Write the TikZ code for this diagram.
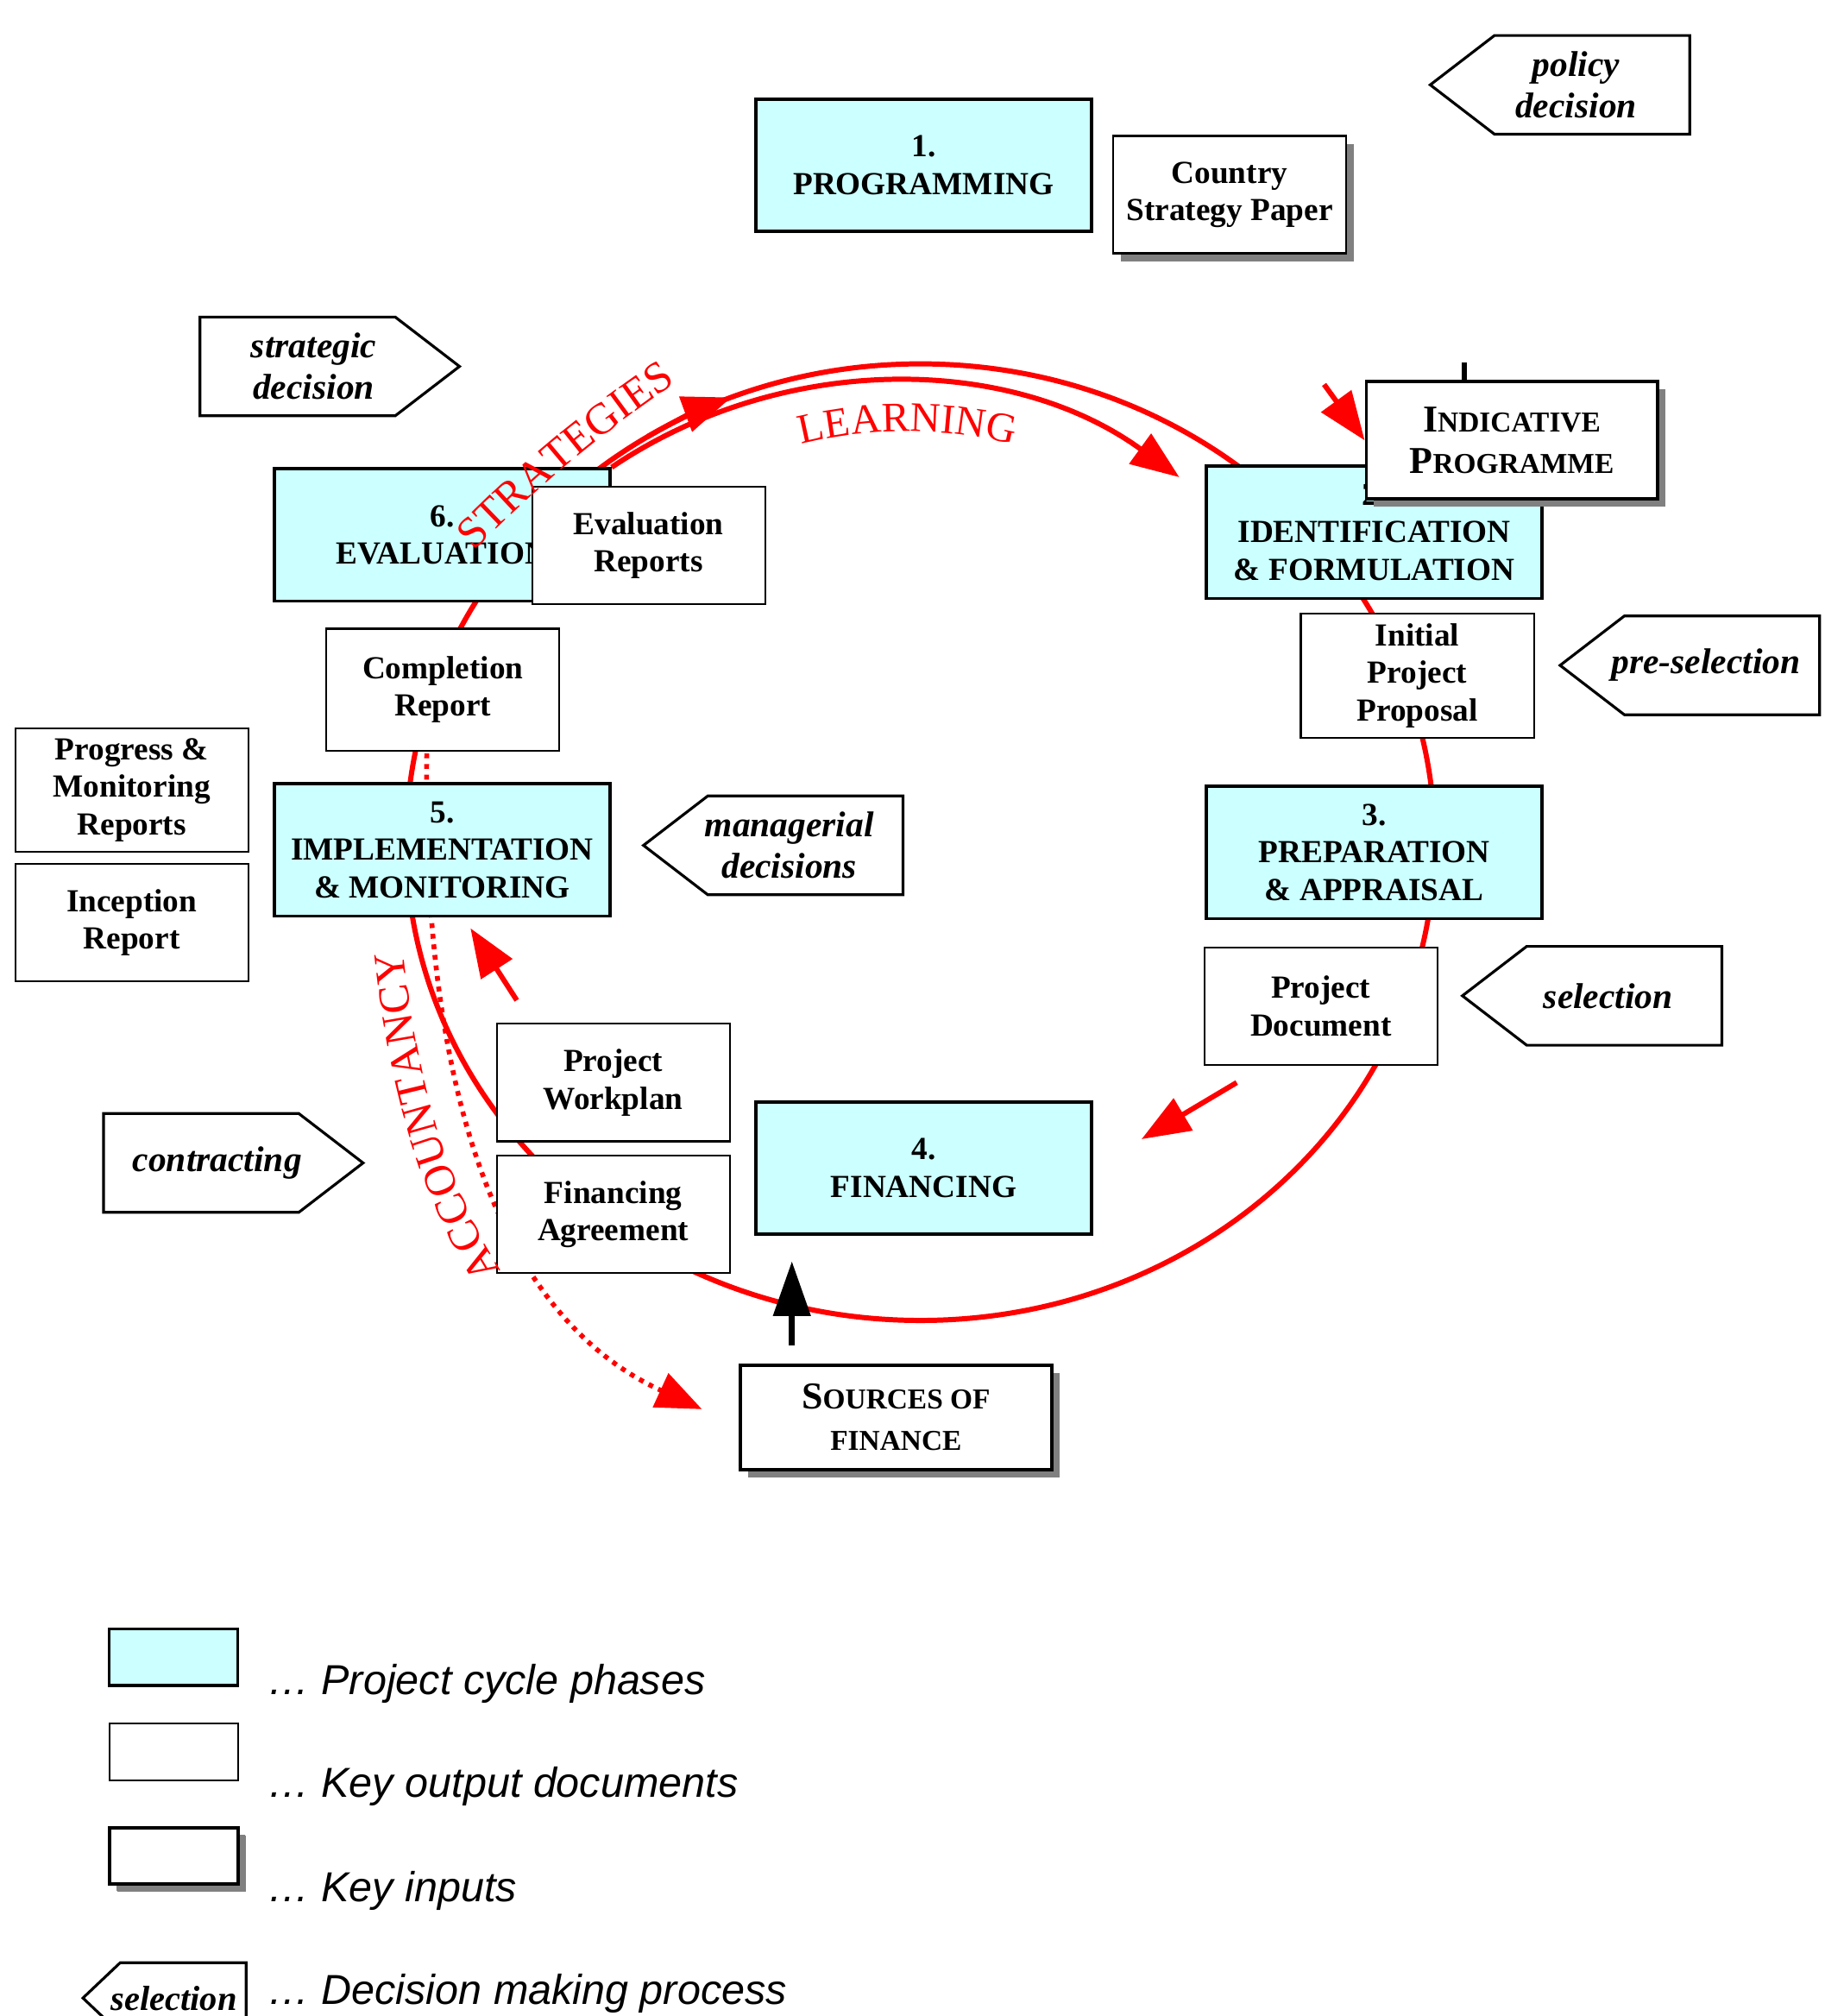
\documentclass[tikz,border=0pt]{standalone}
\usepackage{fontspec}
\setmainfont{Liberation Serif}
\newfontfamily\legendfamily{Liberation Sans}
\usepackage{tikz}
\usetikzlibrary{arrows.meta, positioning, calc, backgrounds, shadows, decorations.text}

\definecolor{phasecyan}{HTML}{CCFFFF}
\definecolor{shadowgray}{HTML}{808080}

\newcommand{\boxfont}{\fontsize{10.6}{12.3}\selectfont\bfseries}
\newcommand{\capsfont}{\fontsize{9.5}{13.6}\selectfont\bfseries}
\newcommand{\bigletter}[1]{{\fontsize{12.5}{13.6}\selectfont #1}}
\newcommand{\decfont}{\fontsize{11.8}{13.7}\selectfont\bfseries\itshape}
\newcommand{\labelfont}{\fontsize{14.5}{14.5}\selectfont}
\newcommand{\legendfont}{\legendfamily\itshape\fontsize{13.8}{16}\selectfont}

\tikzset{
  phase/.style={rectangle, draw, line width=1pt, fill=phasecyan, minimum width=3.89cm, minimum height=1.53cm, align=center, font=\boxfont},
  outdoc/.style={rectangle, draw, line width=0.6pt, fill=white, minimum width=2.7cm, minimum height=1.36cm, align=center, font=\boxfont},
  keyinput/.style={outdoc, line width=1.1pt, drop shadow={shadow xshift=0.09cm, shadow yshift=-0.09cm, fill=shadowgray, opacity=1}},
  decision/.style={rectangle, inner sep=0pt, minimum width=2.62cm, minimum height=1.13cm, align=center, font=\decfont},
  decline/.style={draw, line width=0.9pt, line join=miter},
  cycleline/.style={red, line width=1.7pt},
  cyclearrow/.style={cycleline, -{Triangle[length=16pt, width=12pt]}},
  accline/.style={red, line width=1.6pt, dash pattern=on 1.6pt off 1.9pt, -{Triangle[length=15pt, width=12pt]}},
  finarrow/.style={black, line width=2pt, -{Triangle[length=18pt, width=12pt]}},
  redlabel/.style={decorate, decoration={text along path, text align=center, text color=red}},
  legendtext/.style={anchor=base west, inner sep=0pt, font=\legendfont}
}

\begin{document}
\begin{tikzpicture}[x=0.014898cm, y=0.014898cm]
  \useasboundingbox (0,0) rectangle (1419,-1568);

  % phases of the cycle
  \node[phase] (programming) at (718.5,-128.5) {1.\\PROGRAMMING};
  \node[phase] (identification) at (1069,-414) {2.\\IDENTIFICATION\\\& FORMULATION};
  \node[phase] (preparation) at (1069,-663) {3.\\PREPARATION\\\& APPRAISAL};
  \node[phase] (financing) at (718.5,-908.5) {4.\\FINANCING};
  \node[phase] (implementation) at (344,-661) {5.\\IMPLEMENTATION\\\& MONITORING};
  \node[phase] (evaluation) at (344,-416) {6.\\EVALUATION};

  % key inputs
  \node[keyinput, line width=0.8pt] (csp) at (956.5,-151.5) {Country\\Strategy Paper};
  \node[keyinput, minimum width=3.37cm, font=\capsfont] (indicative) at (1176,-342.5) {\bigletter{I}NDICATIVE\\\bigletter{P}ROGRAMME};
  \node[keyinput, minimum width=3.61cm, minimum height=1.21cm, font=\capsfont] (sources) at (697,-1102.5) {\bigletter{S}OURCES OF\\FINANCE};

  % output documents
  \node[outdoc] (evalrep) at (504.5,-424) {Evaluation\\Reports};
  \node[outdoc] (ipp) at (1102.5,-525.5) {Initial\\Project\\Proposal};
  \node[outdoc] (projdoc) at (1027.5,-782.5) {Project\\Document};
  \node[outdoc] (workplan) at (477,-842) {Project\\Workplan};
  \node[outdoc] (finagr) at (477,-944.5) {Financing\\Agreement};
  \node[outdoc, minimum height=1.415cm] (completion) at (344.5,-536.5) {Completion\\Report};
  \node[outdoc] (progress) at (102.5,-614.5) {Progress \&\\Monitoring\\Reports};
  \node[outdoc] (inception) at (102.5,-717.5) {Inception\\Report};

  % decisions
  \node[decision] (policy) at (1226,-66) {policy\\decision};
  \node[decision] (preselect) at (1327,-517.5) {pre-selection};
  \node[decision] (select) at (1251,-774.5) {selection};
  \node[decision] (managerial) at (614,-657.5) {managerial\\decisions};
  \node[decision] (strategic) at (244,-285) {strategic\\decision};
  \node[decision] (contracting) at (169,-904.5) {contracting};

  % legend
  \node[phase, minimum width=1.49cm, minimum height=0.656cm] (leg_phase) at (135,-1289) {};
  \node[outdoc, minimum width=1.49cm, minimum height=0.656cm] (leg_doc) at (135,-1362.5) {};
  \node[keyinput, minimum width=1.49cm, minimum height=0.656cm, drop shadow={shadow xshift=0.08cm, shadow yshift=-0.08cm, fill=shadowgray, opacity=1}] (leg_input) at (135,-1443.5) {};
  \node[decision, minimum width=1.661cm, minimum height=0.804cm, font=\fontsize{11.5}{13}\selectfont\bfseries\itshape] (leg_decision) at (135.25,-1554) {selection};
  \node[legendtext] (leg_phase_txt) at (208,-1318) {… Project cycle phases};
  \node[legendtext] (leg_doc_txt) at (208,-1398) {… Key output documents};
  \node[legendtext] (leg_input_txt) at (208,-1479) {… Key inputs};
  \node[legendtext] (leg_decision_txt) at (208,-1559) {… Decision making process};

  % pentagon outlines round the decisions
  \foreach \n/\tip/\back/\inoff/\outoff in {policy/west/east/25/-25, preselect/west/east/25/-25, select/west/east/25/-25, managerial/west/east/25/-25, strategic/east/west/-25/25, contracting/east/west/-25/25, leg_decision/west/east/14.5/-14.5}
    \draw[decline] ($(\n.north \tip)+(\inoff,0)$) -- (\n.north \back) -- (\n.south \back) -- ($(\n.south \tip)+(\inoff,0)$) -- ($(\n.\tip)+(\outoff,0)$) -- cycle;

  % the cycle, behind the boxes
  \coordinate (acc_from) at (332,-586);
  \coordinate (acc_to) at (546,-1096);
  \begin{scope}[on background layer]
    \draw[cycleline] (716,-655) ellipse [x radius=400, y radius=372];
    \draw[cyclearrow] (evaluation.north east) arc[start angle=124, end angle=54, radius=385];
    \draw[accline] (acc_from) .. controls (328,-830) and (380,-1020) .. (acc_to);
  \end{scope}
  \draw[cyclearrow] (504,-339.5) arc[start angle=122, end angle=111.6, x radius=400, y radius=372];

  % short arrows
  \coordinate (ip_from) at (1030,-299);
  \coordinate (pd_from) at (962,-842);
  \coordinate (pd_to) at (888,-886);
  \coordinate (im_from) at (402,-778);
  \coordinate (im_to) at (366,-722);
  \coordinate (fin_in) at (616,-981);
  \coordinate (csp_stub) at (1139,-282);
  \draw[cyclearrow] (ip_from) -- (indicative.west);
  \draw[cyclearrow] (pd_from) -- (pd_to);
  \draw[cyclearrow] (im_from) -- (im_to);
  \draw[finarrow] ($(sources.north -| fin_in)+(0,14)$) -- (fin_in);
  \draw[line width=1.5pt] (csp_stub) -- (csp_stub |- indicative.north);

  % red labels
  \path[redlabel, decoration={text={|\fontsize{13.8}{13.8}\selectfont|LEARNING}}] (589.7,-356) arc[start angle=110, end angle=70, radius=340];
  \path[redlabel, decoration={text={|\labelfont|STRATEGIES}}] (353,-445) to[bend left=6] (545,-285);
  \path[redlabel, decoration={text={|\labelfont|ACCOUNTANCY}}] (515,-1100) .. controls (352,-1020) and (303,-830) .. (307,-570);
\end{tikzpicture}
\end{document}
